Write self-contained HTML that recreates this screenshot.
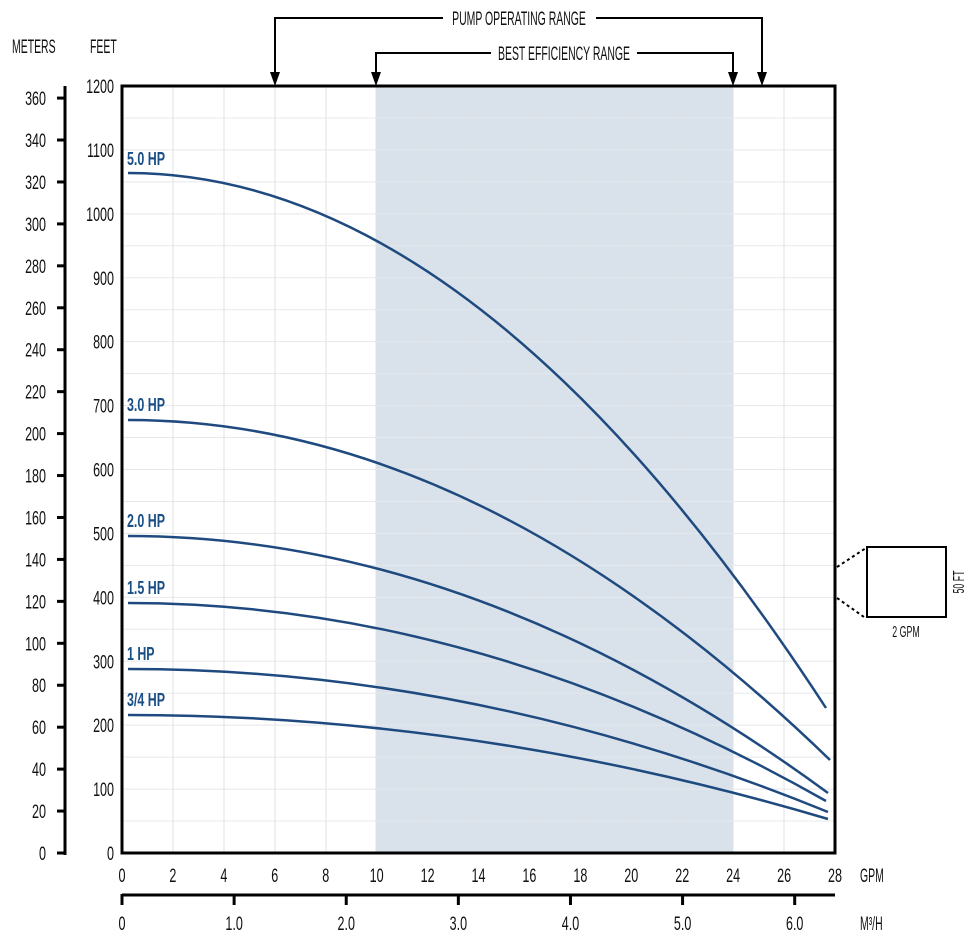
<!DOCTYPE html>
<html><head><meta charset="utf-8"><style>
body{margin:0;background:#fff}
svg text{font-family:"Liberation Sans Narrow","Liberation Sans",sans-serif;fill:#111}
</style></head><body>
<svg id="sv" width="974" height="944" viewBox="0 0 974 944" xmlns="http://www.w3.org/2000/svg">
<rect x="376" y="86" width="357" height="767" fill="#d9e2eb"/>
<g stroke="#dde0e4" stroke-width="1">
<path d="M173 86V853M224 86V853M275 86V853M326 86V853M376 86V853M427 86V853M478 86V853M529 86V853M580 86V853M631 86V853M682 86V853M733 86V853M784 86V853"/>
</g>
<g id="hg" stroke="#e6e8eb" stroke-width="1"></g>
<rect x="122" y="86" width="713" height="767" fill="none" stroke="#000" stroke-width="3"/>
<g fill="none" stroke="#1f4a7f" stroke-width="2.5">
<path d="M128 173 Q477 173 826 708"/>
<path d="M128 420 Q479 420 830 760"/>
<path d="M128 536 Q478 536 828 793"/>
<path d="M128 603 Q477 603 826 801"/>
<path d="M128 669 Q478 669 828 812"/>
<path d="M128 715 Q478 715 828 819"/>
</g>
<g font-weight="bold" font-size="18" class="hp">
<text x="127" y="165" style="fill:#1a4f86">5.0 HP</text>
<text x="127" y="411" style="fill:#1a4f86">3.0 HP</text>
<text x="127" y="527" style="fill:#1a4f86">2.0 HP</text>
<text x="127" y="594" style="fill:#1a4f86">1.5 HP</text>
<text x="127" y="660" style="fill:#1a4f86">1 HP</text>
<text x="127" y="706" style="fill:#1a4f86">3/4 HP</text>
</g>
<g font-size="19" text-anchor="end" id="ft" class="num"></g>
<path d="M65 86V855" stroke="#000" stroke-width="3"/>
<g id="mt" font-size="19" text-anchor="end" class="num"></g>
<text x="12" y="53" font-size="19">METERS</text>
<text x="90" y="53" font-size="19">FEET</text>
<g id="gp" font-size="19" text-anchor="middle" class="num"></g>
<text x="860" y="882" font-size="19">GPM</text>
<path d="M122 895H835" stroke="#000" stroke-width="3"/>
<g id="m3" font-size="19" text-anchor="middle" class="num"></g>
<text x="860" y="930" font-size="19">M³/H</text>
<g fill="none" stroke="#000" stroke-width="2">
<path d="M275 78V18H443M596 18H762V78"/>
<path d="M376 78V53H491M637 53H733V78"/>
</g>
<g fill="#000">
<path d="M270 72L280 72L275 86Z"/><path d="M757 72L767 72L762 86Z"/>
<path d="M371 72L381 72L376 86Z"/><path d="M728 72L738 72L733 86Z"/>
</g>
<text x="519" y="25" font-size="19" text-anchor="middle">PUMP OPERATING RANGE</text>
<text x="564" y="60" font-size="19" text-anchor="middle">BEST EFFICIENCY RANGE</text>
<rect x="867" y="547" width="79" height="70" fill="none" stroke="#000" stroke-width="2"/>
<path d="M837 567L866 548M837 598L864 617" stroke="#000" stroke-width="2" stroke-dasharray="3,3"/>
<text x="906" y="637" font-size="16" text-anchor="middle">2 GPM</text>
<text transform="translate(964,582) rotate(-90)" font-size="16" text-anchor="middle">50 FT</text>
</svg>
<script>
var ns="http://www.w3.org/2000/svg";
function el(p,t,a,txt){var e=document.createElementNS(ns,t);for(var k in a)e.setAttribute(k,a[k]);if(txt!==undefined)e.textContent=txt;document.getElementById(p).appendChild(e);}
var s=767/1200;
for(var f=50;f<1200;f+=50){var y=853-f*s;el("hg","line",{x1:122,x2:835,y1:y,y2:y});}
for(var f=0;f<=1200;f+=100){el("ft","text",{x:114,y:853-f*s+7},f);}
for(var m=0;m<=360;m+=20){var y=853-m*3.28084*s;el("mt","line",{x1:57,x2:65,y1:y,y2:y,stroke:"#000","stroke-width":3});el("mt","text",{x:46,y:y+7},m);}
for(var g=0;g<=28;g+=2){el("gp","text",{x:122+g*713/28,y:882},g);}
for(var q=0;q<=6;q++){var x=122+q*4.4029*713/28;el("m3","line",{x1:x,x2:x,y1:894,y2:905,stroke:"#000","stroke-width":3});el("m3","text",{x:x,y:930},q==0?"0":q.toFixed(1));}
var ts=document.querySelectorAll("#sv text");
for(var i=0;i<ts.length;i++){var L=ts[i].getComputedTextLength();var c=ts[i].parentNode.getAttribute("class");var f=c=="hp"?0.69:(c=="num"?0.66:0.55);if(L>0){ts[i].setAttribute("textLength",(L*f).toFixed(1));ts[i].setAttribute("lengthAdjust","spacingAndGlyphs");}}
</script>
</body></html>
